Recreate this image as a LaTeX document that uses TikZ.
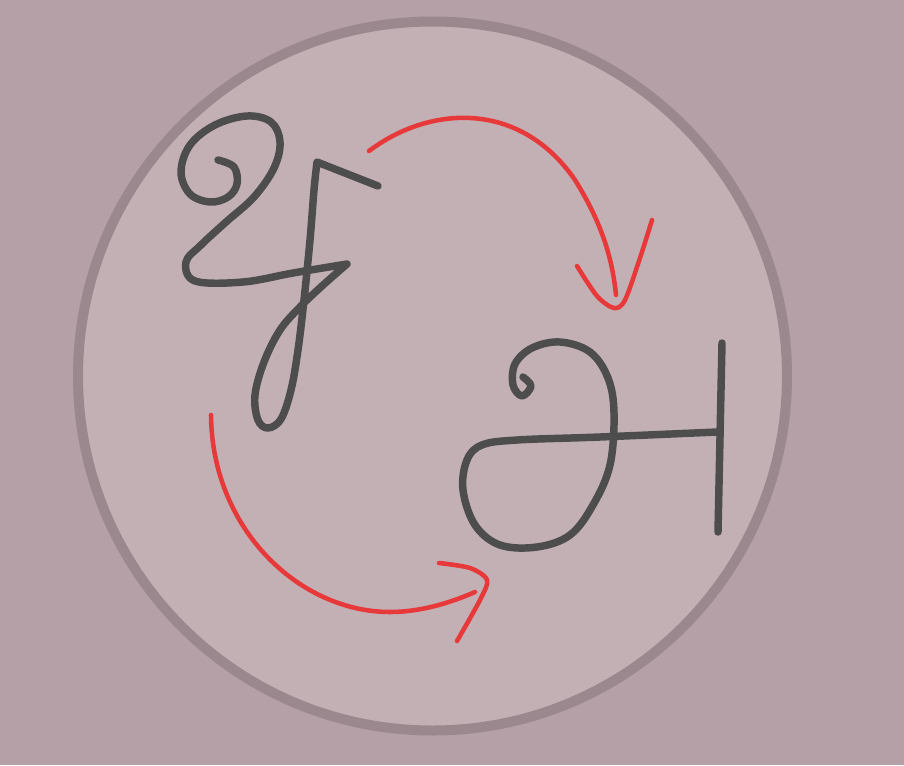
\documentclass[tikz,border=0pt]{standalone}
\begin{document}
\begin{tikzpicture}[x=0.75pt,y=-0.75pt,
  glyph/.style={draw=glyphgray,line width=5.6pt,line cap=round,line join=round},
  redline/.style={draw=arrowred,line width=3.4pt,line cap=round,line join=round}]
\definecolor{bgcol}{HTML}{B4A0A6}
\definecolor{discfill}{HTML}{C3B0B5}
\definecolor{ringcol}{HTML}{9A888E}
\definecolor{glyphgray}{HTML}{4D4D4D}
\definecolor{arrowred}{HTML}{E8393A}
\fill[bgcol] (0,0) rectangle (904,765);
\useasboundingbox (0,0) rectangle (904,765);
\draw[fill=discfill,draw=ringcol,line width=7.5pt] (432.5,376) circle (354.5);
% first glyph
\draw[glyph] plot[smooth,tension=0.6] coordinates {(218,160) (234,167) (237,184) (228,197) (210,202) (190,194) (181,172) (190,145) (215,125) (247,116) (271,122) (280,142) (274,168) (254,197) (226,222) (201,245) (186,262) (195,281) (243,282) (293,273) (347,264)}
  -- plot[smooth,tension=0.6] coordinates {(347,264) (322,286) (300,307) (280,330) (264,362) (255,395) (258,420) (268,428) (281,419) (291,390) (298,350) (304,300) (310,240) (314,190) (317,162)}
  -- (378,186);
% second glyph
\draw[glyph] plot[smooth,tension=0.6] coordinates {(523,377) (531,386) (522,396) (513,385) (515,364) (532,348) (560,342) (590,352) (608,378) (614,413) (610,465) (593,505) (570,535) (537,547) (500,545) (475,525) (463,490) (467,460) (482,445) (517,440) (600,437) (717,432)};
\draw[glyph] (722,343) -- (718,532);
% arrows
\draw[redline] (369,151) .. controls (430,105) and (520,100) .. (575,180)
  .. controls (600,220) and (612,255) .. (616,295);
\draw[redline] plot[smooth,tension=0.5] coordinates {(577,266) (597,296) (614,308) (625,300) (640,258) (652,220)};
\draw[redline] (211,415) .. controls (212,530) and (300,612) .. (390,612)
  .. controls (420,612) and (450,603) .. (475,592);
\draw[redline] plot[smooth,tension=0.5] coordinates {(439,563) (470,568) (487,580) (480,600) (457,641)};
\end{tikzpicture}
\end{document}
